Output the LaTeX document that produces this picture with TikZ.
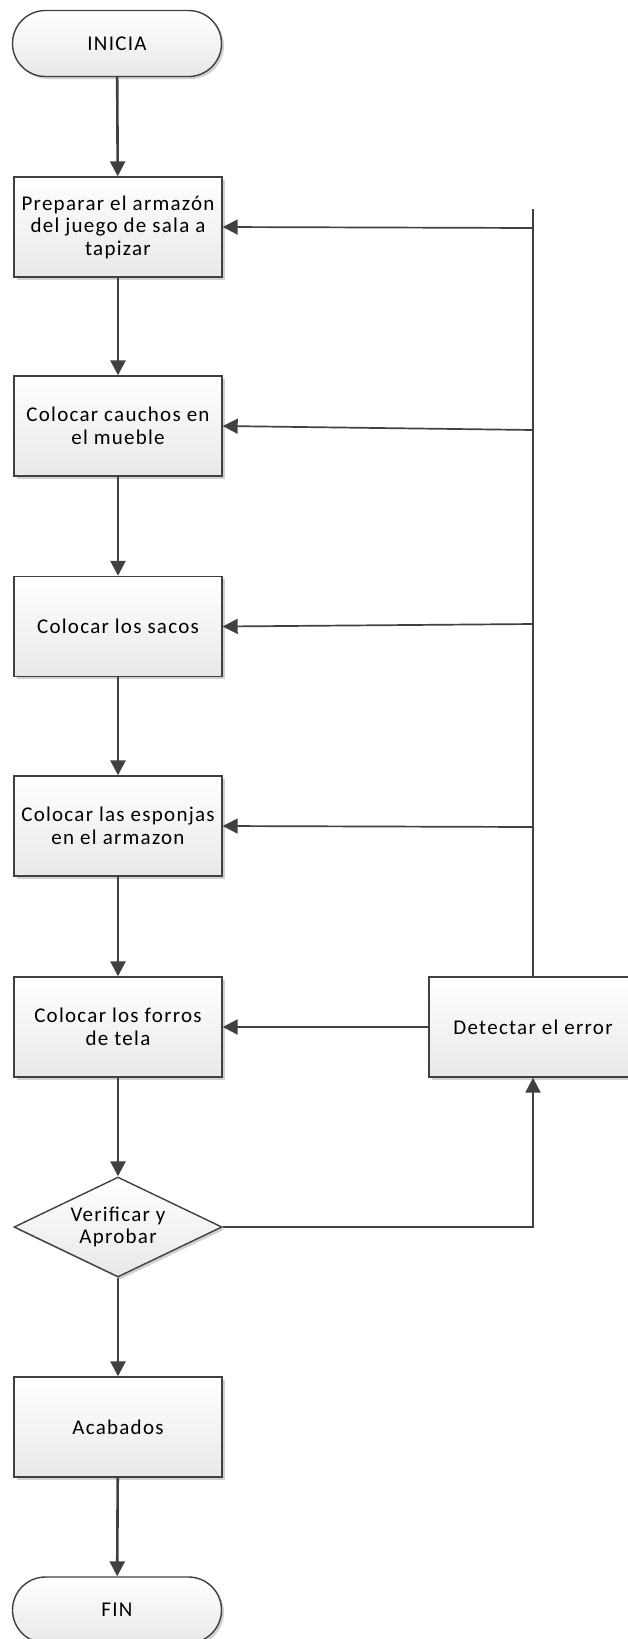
\documentclass[tikz,border=0pt]{standalone}
\usepackage{fontspec}
\setmainfont{Carlito}[LetterSpace=6]
\usetikzlibrary{arrows.meta,shapes.geometric,shadows}
\definecolor{ln}{HTML}{404040}
\tikzset{
  base/.style={draw=ln, line width=1.4pt, shade, top color=white, bottom color=black!9,
    drop shadow={shadow xshift=2.5pt, shadow yshift=-2.5pt, opacity=0.18, fill=black},
    align=center, font=\fontsize{21}{22.5}\selectfont, text=black, inner sep=0pt},
  procbox/.style={base, rectangle, minimum width=208pt, minimum height=100pt},
  termbox/.style={base, rectangle, rounded corners=33pt, minimum width=209pt, minimum height=66pt},
  decbox/.style={base, diamond, aspect=2.08, minimum width=208pt, minimum height=100pt},
  flow/.style={draw=ln, line width=2.6pt, -{Triangle[length=15pt,width=15pt]}},
  back/.style={draw=ln, line width=1.7pt, -{Triangle[length=15pt,width=15pt]}},
  plain/.style={draw=ln, line width=1.7pt}
}
\begin{document}
\begin{tikzpicture}[x=1pt,y=-1pt]
\useasboundingbox (0,0) rectangle (628,1639);
\node[termbox] (ini) at (117,43.5) {INICIA};
\node[procbox] (b1) at (118,227) {Preparar el armazón\\del juego de sala a\\tapizar};
\node[procbox] (b2) at (118,426) {Colocar cauchos en\\el mueble};
\node[procbox] (b3) at (118,626.5) {Colocar los sacos};
\node[procbox] (b4) at (118,826) {Colocar las esponjas\\en el armazon};
\node[procbox] (b5) at (118,1027) {Colocar los forros\\de tela};
\node[decbox] (dec) at (118,1227) {Verificar y\\Aprobar};
\node[procbox] (b6) at (118,1427) {Acabados};
\node[termbox] (fin) at (117,1610) {FIN};
\node[procbox] (det) at (533,1027) {Detectar el error};
\coordinate (top) at (533,209);
\coordinate (c1) at (533,228);
\coordinate (c2) at (533,430);
\coordinate (c3) at (533,624);
\coordinate (c4) at (533,827);
\draw[flow] (ini) -- (b1);
\draw[flow] (b1) -- (b2);
\draw[flow] (b2) -- (b3);
\draw[flow] (b3) -- (b4);
\draw[flow] (b4) -- (b5);
\draw[flow] (b5) -- (dec);
\draw[flow] (dec) -- (b6);
\draw[flow] (b6) -- (fin);
\draw[plain] (top) -- (det.north);
\draw[back] (c1) -- (b1.east);
\draw[back] (c2) -- (b2.east);
\draw[back] (c3) -- (b3.east);
\draw[back] (c4) -- (b4.east);
\draw[flow, line width=2.2pt] (det.west) -- (b5.east);
\draw[flow, line width=2.2pt] (dec.east) -| (det.south);
\end{tikzpicture}
\end{document}
